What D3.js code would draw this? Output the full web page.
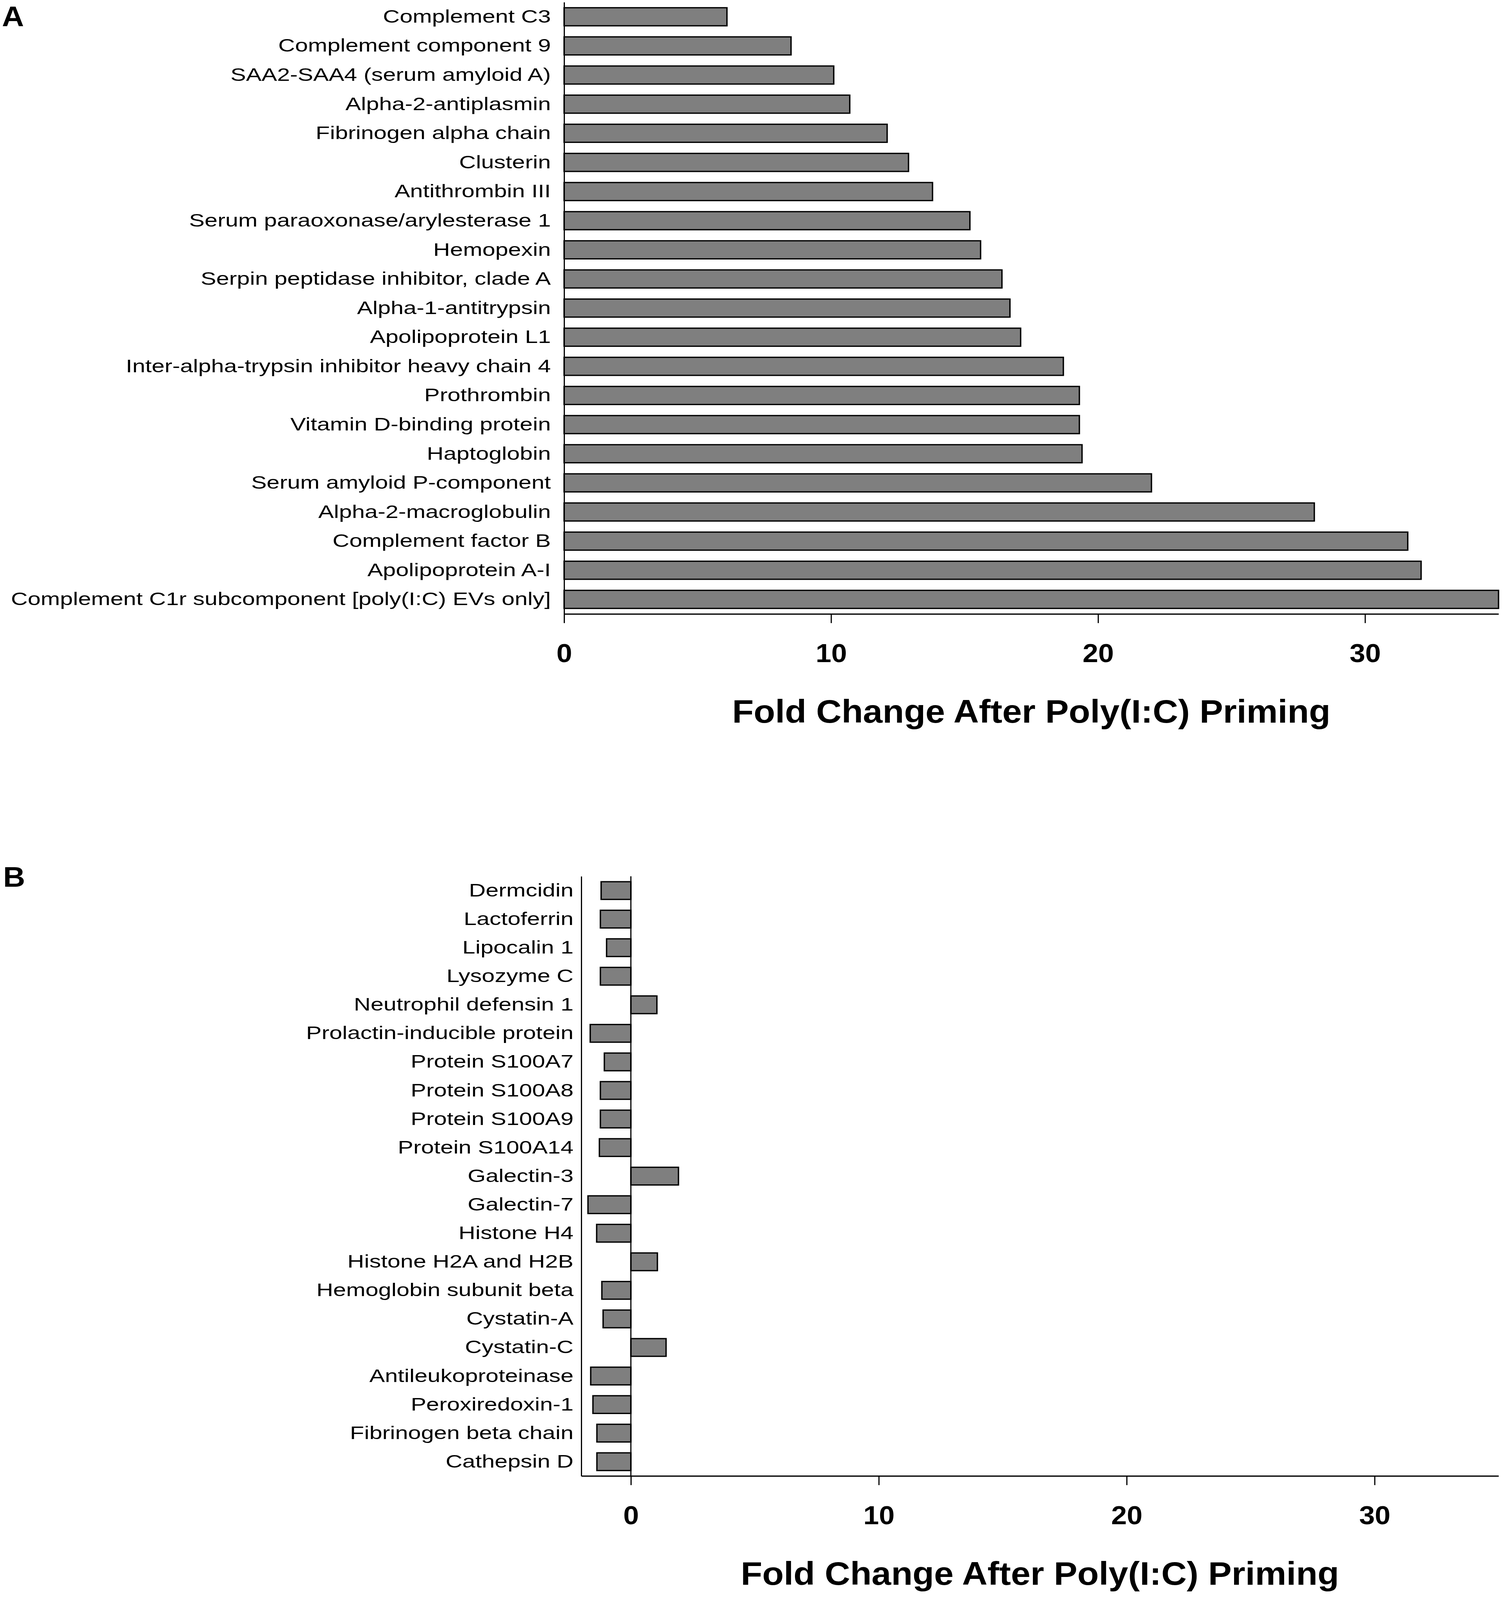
<!DOCTYPE html>
<html>
<head>
<meta charset="utf-8">
<script src="https://cdn.jsdelivr.net/npm/d3@7"></script>
<style>
  html, body { margin: 0; padding: 0; background: #fff; overflow: hidden; }
  svg { display: block; font-family: "Liberation Sans", Arial, sans-serif; }
</style>
</head>
<body>
<svg id="chart"></svg>
<script>
// panel A: acute phase / complement proteins
let proteinsA = [
  "Complement C3", "Complement component 9", "SAA2-SAA4 (serum amyloid A)",
  "Alpha-2-antiplasmin", "Fibrinogen alpha chain", "Clusterin", "Antithrombin III",
  "Serum paraoxonase/arylesterase 1", "Hemopexin", "Serpin peptidase inhibitor, clade A",
  "Alpha-1-antitrypsin", "Apolipoprotein L1", "Inter-alpha-trypsin inhibitor heavy chain 4",
  "Prothrombin", "Vitamin D-binding protein", "Haptoglobin", "Serum amyloid P-component",
  "Alpha-2-macroglobulin", "Complement factor B", "Apolipoprotein A-I",
  "Complement C1r subcomponent [poly(I:C) EVs only]"
];
let foldA = [
  6.1, 8.5, 10.1, 10.7, 12.1, 12.9, 13.8, 15.2, 15.6, 16.4, 16.7,
  17.1, 18.7, 19.3, 19.3, 19.4, 22.0, 28.1, 31.6, 32.1, 35.0
];

// panel B: antimicrobial / skin proteins
let proteinsB = [
  "Dermcidin", "Lactoferrin", "Lipocalin 1", "Lysozyme C", "Neutrophil defensin 1",
  "Prolactin-inducible protein", "Protein S100A7", "Protein S100A8", "Protein S100A9",
  "Protein S100A14", "Galectin-3", "Galectin-7", "Histone H4", "Histone H2A and H2B",
  "Hemoglobin subunit beta", "Cystatin-A", "Cystatin-C", "Antileukoproteinase",
  "Peroxiredoxin-1", "Fibrinogen beta chain", "Cathepsin D"
];
let foldB = [
  -1.2, -1.23, -0.98, -1.23, 1.05, -1.64, -1.07, -1.23, -1.23, -1.27, 1.92,
  -1.73, -1.38, 1.07, -1.17, -1.12, 1.42, -1.62, -1.53, -1.37, -1.37
];

let xTicks = [0, 10, 20, 30];
let xTitle = "Fold Change After Poly(I:C) Priming";

let W = 3850, H = 4373;
let labelStretch = 1.19; // the original labels are a bit wider than Arial

// fit the whole figure into whatever viewport we get
let svg = d3.select("#chart")
  .attr("viewBox", `0 0 ${W} ${H}`)
  .attr("preserveAspectRatio", "none")
  .attr("width", window.innerWidth || W)
  .attr("height", window.innerHeight || H);
svg.append("rect").attr("width", W).attr("height", H).attr("fill", "#fff");

function drawPanel(cfg) {
  let g = svg.append("g");

  let x = d3.scaleLinear().domain(cfg.xDomain).range(cfg.xRange);
  let y = d3.scaleBand()
    .domain(cfg.names)
    .range(cfg.yRange)
    .paddingInner(0.38)
    .paddingOuter(0.19);

  let rows = cfg.names.map((n, i) => ({ name: n, value: cfg.values[i] }));
  let axisY = cfg.yRange[1];

  // bars
  g.append("g")
    .selectAll("rect")
    .data(rows)
    .join("rect")
    .attr("x", d => x(Math.min(0, d.value)))
    .attr("width", d => Math.abs(x(d.value) - x(0)))
    .attr("y", d => y(d.name))
    .attr("height", y.bandwidth())
    .attr("fill", "#7f7f7f")
    .attr("stroke", "#000")
    .attr("stroke-width", 3.5);

  // zero line when the axis does not start at 0
  if (cfg.xDomain[0] < 0) {
    g.append("line")
      .attr("x1", x(0)).attr("x2", x(0))
      .attr("y1", cfg.yRange[0]).attr("y2", axisY)
      .attr("stroke", "#000").attr("stroke-width", 3);
  }

  // category axis
  let yAxis = g.append("g")
    .attr("transform", `translate(${cfg.xRange[0]},0)`)
    .call(d3.axisLeft(y).tickSize(0).tickSizeOuter(0).tickPadding(0));
  yAxis.select(".domain").attr("stroke-width", 3);
  yAxis.selectAll("text")
    .attr("x", -cfg.labelGap / labelStretch)
    .attr("transform", `scale(${labelStretch},1)`)
    .attr("font-size", 50)
    .attr("font-family", "Liberation Sans, Arial, sans-serif")
    .attr("fill", "#000");

  // value axis
  let xAxis = g.append("g")
    .attr("transform", `translate(0,${axisY})`)
    .call(d3.axisBottom(x).tickValues(xTicks).tickFormat(d3.format("d"))
      .tickSize(25).tickSizeOuter(0).tickPadding(56));
  xAxis.select(".domain").attr("stroke-width", 3.5);
  xAxis.selectAll(".tick line").attr("stroke-width", 3);
  xAxis.selectAll("text")
    .attr("font-size", 72)
    .attr("font-weight", "bold")
    .attr("font-family", "Liberation Sans, Arial, sans-serif")
    .attr("fill", "#000");

  g.append("text")
    .attr("x", (cfg.xRange[0] + cfg.xRange[1]) / 2)
    .attr("y", axisY + 297)
    .attr("text-anchor", "middle")
    .attr("font-size", 90)
    .attr("font-weight", "bold")
    .text(xTitle);

  g.append("text")
    .attr("x", cfg.letterX)
    .attr("y", cfg.letterY)
    .attr("font-size", 78)
    .attr("font-weight", "bold")
    .text(cfg.letter);
}

drawPanel({
  letter: "A", letterX: 5, letterY: 72,
  names: proteinsA, values: foldA,
  xDomain: [0, 35], xRange: [1444, 3836],
  yRange: [6, 1678], labelGap: 34
});

drawPanel({
  letter: "B", letterX: 8, letterY: 2424,
  names: proteinsB, values: foldB,
  xDomain: [-2, 35], xRange: [1488, 3836],
  yRange: [2395, 4034], labelGap: 20
});
</script>
</body>
</html>
